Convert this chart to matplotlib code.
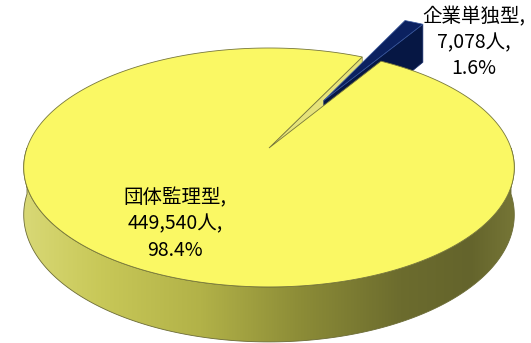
import numpy as np
import matplotlib
matplotlib.use("Agg")
import matplotlib.pyplot as plt
from matplotlib.patches import Polygon

plt.rcParams["font.family"] = ["Noto Sans CJK JP", "DejaVu Sans"]

# data
labels = ["団体監理型", "企業単独型"]
people = [449540, 7078]
shares = [98.4, 1.6]
explode = [0.0, 0.5]
top_colors = ["#FAF864", "#0B2160"]
side_colors = ["#E6E37A", "#061744"]

# 3D projection of the disc (pixel coords, y downwards)
CX, CY = 269, 148
RX, A, K, H = 242, 116.3, 0.163, 46


def proj(u, v, drop=0.0):
    s = 1 + K * np.asarray(v)
    return CX + RX * np.asarray(u) / s, CY - A * np.asarray(v) / s + drop * H / s


def arc(t1, t2, off, n=240):
    th = np.radians(np.linspace(t1, t2, n))
    return off[0] + np.cos(th), off[1] + np.sin(th)


def radial_face(off, t, **kw):
    eu = off[0] + np.cos(np.radians(t))
    ev = off[1] + np.sin(np.radians(t))
    pts = [proj(off[0], off[1]), proj(eu, ev), proj(eu, ev, 1), proj(off[0], off[1], 1)]
    ax.add_patch(Polygon([(float(x), float(y)) for x, y in pts], closed=True, **kw))


fig = plt.figure(figsize=(5.31, 3.43), dpi=100)
ax = fig.add_axes([0, 0, 1, 1])
ax.set_xlim(0, 531)
ax.set_ylim(343, 0)
ax.axis("off")

fracs = np.array(people) / sum(people)
mid = 61.0
b0 = mid - fracs[1] * 180
b1 = mid + fracs[1] * 180
spans = [(b1, b0 + 360), (b0, b1)]


def offset(i):
    t0, t1 = spans[i]
    m = np.radians((t0 + t1) / 2)
    return explode[i] * np.cos(m), explode[i] * np.sin(m)


# radial face of the large slice, seen through the gap
off0 = offset(0)
radial_face(off0, spans[0][0], facecolor=side_colors[0], edgecolor="#8a8a40",
            lw=0.5, zorder=1)

# small exploded slice
off1 = offset(1)
t0, t1 = spans[1]
radial_face(off1, t0, facecolor=side_colors[1], edgecolor="#1a2f6e", lw=0.5, zorder=2)
u, v = arc(t0, t1, off1, 40)
xs, ys = proj(np.r_[off1[0], u], np.r_[off1[1], v])
ax.add_patch(Polygon(np.c_[xs, ys], closed=True, facecolor=top_colors[1],
                     edgecolor="#3a5aa0", lw=0.5, zorder=2))

# outer wall (front half) of the large slice, horizontal gradient
u, v = arc(180, 360, off0)
xt, yt = proj(u, v)
xb, yb = proj(u, v, 1)
wall = Polygon(np.r_[np.c_[xt, yt], np.c_[xb, yb][::-1]], closed=True,
               facecolor="none", edgecolor="#6b6b35", lw=0.6, zorder=4)
ax.add_patch(wall)
stops_x = [0, 30, 100, 200, 300, 400, 470, 531]
stops_c = np.array([[222, 222, 125], [215, 215, 115], [200, 200, 88], [178, 178, 72],
                     [140, 140, 55], [108, 108, 46], [100, 100, 44], [125, 125, 58]]) / 255
gx = np.arange(531)
grad = np.stack([np.interp(gx, stops_x, stops_c[:, c]) for c in range(3)], axis=-1)
img = ax.imshow(np.tile(grad[None, :, :], (343, 1, 1)), extent=[0, 531, 343, 0],
                aspect="auto", zorder=3)
img.set_clip_path(wall)

# top face of the large slice
t0, t1 = spans[0]
u, v = arc(t0, t1, off0, 400)
xs, ys = proj(np.r_[off0[0], u], np.r_[off0[1], v])
ax.add_patch(Polygon(np.c_[xs, ys], closed=True, facecolor=top_colors[0],
                     edgecolor="#77773a", lw=0.6, zorder=5))

# labels
txt = [f"{l},\n{p:,}人,\n{s}%" for l, p, s in zip(labels, people, shares)]
ax.text(175, 224, txt[0], ha="center", va="center", fontsize=14,
        linespacing=1.35, color="black", zorder=6)
ax.text(474, 43, txt[1], ha="center", va="center", fontsize=14,
        linespacing=1.3, color="black", zorder=6)

fig.savefig("out.png", dpi=100)
